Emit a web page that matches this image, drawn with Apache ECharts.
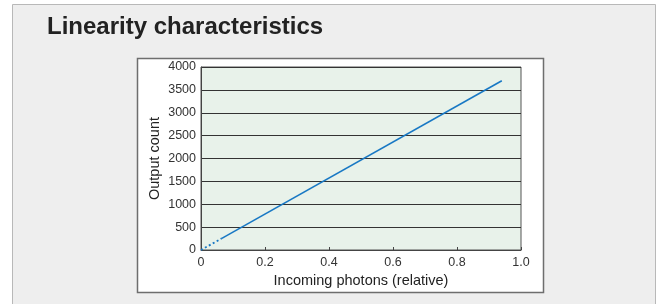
<!DOCTYPE html>
<html>
<head>
<meta charset="utf-8">
<style>
  html, body { margin: 0; padding: 0; background: #ffffff; }
  #chart { width: 666px; height: 304px; }
</style>
<script src="https://cdn.jsdelivr.net/npm/echarts@6/dist/echarts.min.js"></script>
</head>
<body>
<div id="chart"></div>
<script>
// 数据
var yTicks = [0, 500, 1000, 1500, 2000, 2500, 3000, 3500, 4000];
var xTicks = [0, 0.2, 0.4, 0.6, 0.8, 1.0];
// 低光量部分（虚线）
var dottedX = [0, 0.065];
var dottedY = [0, 255];
// 线性部分（实线）
var solidX = [0.065, 0.94];
var solidY = [255, 3700];

var myChart = echarts.init(document.getElementById("chart"));
var pairs = function (xs, ys) {
  return xs.map(function (x, i) { return [x, ys[i]]; });
};
var font = "'Liberation Sans', Arial, sans-serif";
var lineColor = "#1878c4";

var option = {
  animation: false,
  textStyle: { fontFamily: font },
  title: {
    text: "Linearity characteristics",
    left: 47,
    top: 15,
    padding: 0,
    textStyle: { fontSize: 24, fontWeight: "bold", color: "#222", fontFamily: font }
  },
  graphic: [
    {
      type: "rect",
      z: -10,
      shape: { x: 12.5, y: 4.5, width: 643, height: 310 },
      style: { fill: "#eeeeee", stroke: "#b8b8b8", lineWidth: 1 }
    },
    {
      type: "rect",
      z: -9,
      shape: { x: 137.5, y: 58.5, width: 406, height: 234 },
      style: { fill: "#ffffff", stroke: "#6e6e6e", lineWidth: 1.5 }
    }
  ],
  grid: {
    left: 201,
    right: 145,
    top: 67,
    bottom: 54,
    show: true,
    backgroundColor: "#e8f2ea",
    borderColor: "#555",
    borderWidth: 1
  },
  xAxis: {
    type: "value",
    min: 0,
    max: 1,
    interval: 0.2,
    name: "Incoming photons (relative)",
    nameLocation: "middle",
    nameGap: 23,
    nameTextStyle: { fontSize: 14.5, color: "#222" },
    axisLine: { show: true, lineStyle: { color: "#444", width: 1 } },
    axisTick: { show: true, inside: true, length: 3, lineStyle: { color: "#444" } },
    axisLabel: {
      fontSize: 12.5,
      color: "#333",
      margin: 6,
      formatter: function (v) { return v === 0 ? "0" : v.toFixed(1); }
    },
    splitLine: { show: false }
  },
  yAxis: {
    type: "value",
    min: 0,
    max: 4000,
    interval: 500,
    name: "Output count",
    nameLocation: "middle",
    nameGap: 39,
    nameTextStyle: { fontSize: 14.5, color: "#222" },
    axisLine: { show: true, lineStyle: { color: "#444", width: 1 } },
    axisTick: { show: false },
    axisLabel: {
      fontSize: 12.5,
      color: "#333",
      margin: 5,
      formatter: function (v) { return String(v); }
    },
    splitLine: { show: true, lineStyle: { color: "#333", width: 1 } }
  },
  series: [
    {
      type: "line",
      data: pairs(dottedX, dottedY),
      showSymbol: false,
      lineStyle: { color: lineColor, width: 1.8, type: [2, 2.5] },
      z: 3
    },
    {
      type: "line",
      data: pairs(solidX, solidY),
      showSymbol: false,
      lineStyle: { color: lineColor, width: 1.6 },
      z: 3
    }
  ]
};
myChart.setOption(option, true);
</script>
</body>
</html>
